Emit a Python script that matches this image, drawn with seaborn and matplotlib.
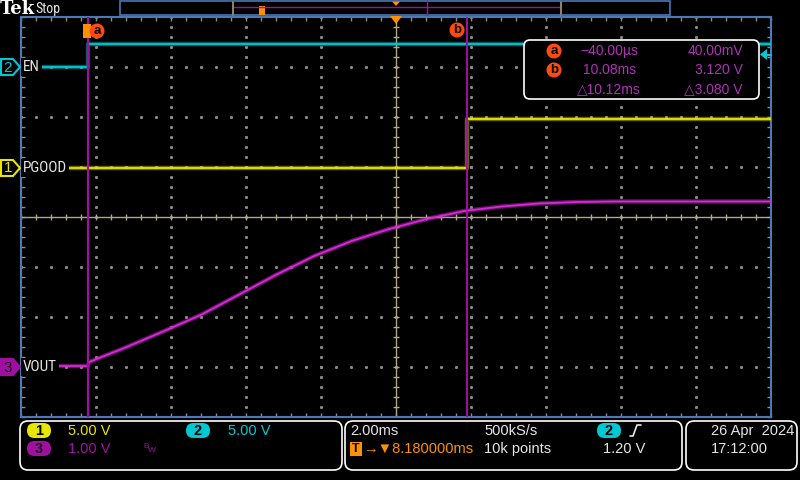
import numpy as np
import pandas as pd
import matplotlib.pyplot as plt
import seaborn as sns
from matplotlib import font_manager
from matplotlib.patches import FancyBboxPatch, Polygon, Rectangle, Circle

# scope settings
time_per_div = 2.0      # ms/div
center_time = 8.18      # ms
trig_level = 1.20       # V on ch2

# channel setup: scale V/div, ground position in div from centre
pgood_scale, pgood_pos = 5.0, 0.98
en_scale, en_pos = 5.0, 3.0
vout_scale, vout_pos = 1.0, -3.0

# waveforms (ms, V)
pgood_t = [-1.82, 10.08, 10.08, 18.18]
pgood_v = [0.0, 0.0, 4.9, 4.9]
en_t = [-1.82, -0.04, -0.04, 18.18]
en_v = [0.05, 0.05, 2.3, 2.3]
vout_t = [-1.82, -0.04, 0.0, 1.0, 2.0, 3.0, 4.0, 5.0, 6.0, 7.0, 8.0, 9.0,
          10.0, 11.0, 12.0, 13.0, 14.0, 18.18]
vout_v = [0.02, 0.02, 0.10, 0.40, 0.72, 1.05, 1.45, 1.85, 2.22, 2.52, 2.76,
          2.96, 3.12, 3.21, 3.27, 3.30, 3.31, 3.31]

cursor_t = [-0.04, 10.08]

YEL = "#e6e600"
CYA = "#00c8d2"
MAG = "#d828d8"
CUR = "#a010a0"
TXTMAG = "#b030b8"
ORG = "#ff9000"
RED = "#ff4a10"
BLUE = "#4a78b8"
WHITE = "#e6e6e6"

sns.set_theme(style="dark", rc={"axes.facecolor": "black", "figure.facecolor": "black"})
plt.rcParams['font.family'] = ['Liberation Sans', 'DejaVu Sans']

names = {f.name for f in font_manager.fontManager.ttflist}
narrow = 'Liberation Sans'
for cand in ['Liberation Sans Narrow', 'DejaVu Sans Condensed', 'Roboto Condensed']:
    if cand in names:
        narrow = cand
        break

fig = plt.figure(figsize=(8, 4.8), dpi=100)
ax = fig.add_axes([21/800, 63/480, 750/800, 400/480])
x0 = center_time - 5*time_per_div
x1 = center_time + 5*time_per_div
ax.set_xlim(x0, x1)
ax.set_ylim(-4, 4)

# graticule: dotted lines every division, solid centre cross with ticks
dot = "#8c8c8c"
for k in range(1, 10):
    if k == 5:
        continue
    gx = x0 + k*time_per_div
    ys = np.arange(-4, 4.01, 0.2)
    ax.plot([gx]*len(ys), ys, ls="none", marker="s", ms=1.1, color=dot, zorder=1)
for k in range(-3, 4):
    if k == 0:
        continue
    xs = np.arange(x0, x1 + 0.01, 0.2*time_per_div)
    ax.plot(xs, [k]*len(xs), ls="none", marker="s", ms=1.1, color=dot, zorder=1)
tan = "#b0a888"
ax.axhline(0, color=tan, lw=1, zorder=1)
ax.axvline(center_time, color=tan, lw=1, zorder=1)
tx = np.arange(x0, x1 + 0.01, 0.2*time_per_div)
ax.vlines(tx, -0.06, 0.06, color=tan, lw=1, zorder=1)
ty = np.arange(-4, 4.01, 0.2)
ax.hlines(ty, center_time - 0.08, center_time + 0.08, color=tan, lw=1, zorder=1)

ax.set_xticks(np.arange(x0, x1 + 0.01, time_per_div))
ax.set_xticks(tx, minor=True)
ax.set_yticks(np.arange(-4, 5, 1))
ax.set_yticks(ty, minor=True)
ax.tick_params(which="both", direction="in", length=3, width=1, color=dot,
               top=True, right=True, bottom=True, left=True,
               labelleft=False, labelbottom=False)
ax.grid(False)
for s in ax.spines.values():
    s.set_color(BLUE)
    s.set_linewidth(1.5)

# traces
def to_div(v, scale, pos):
    return [x/scale + pos for x in v]

df = pd.DataFrame({
    "t": pgood_t + en_t + vout_t,
    "y": to_div(pgood_v, pgood_scale, pgood_pos) + to_div(en_v, en_scale, en_pos)
         + to_div(vout_v, vout_scale, vout_pos),
    "ch": ["PGOOD"]*len(pgood_t) + ["EN"]*len(en_t) + ["VOUT"]*len(vout_t),
})
pal = {"PGOOD": YEL, "EN": CYA, "VOUT": MAG}
sns.lineplot(data=df, x="t", y="y", hue="ch", palette=pal, estimator=None,
             sort=False, units="ch", lw=3.2, alpha=0.45, legend=False, ax=ax, zorder=3)
sns.lineplot(data=df, x="t", y="y", hue="ch", palette=pal, estimator=None,
             sort=False, units="ch", lw=1.3, legend=False, ax=ax, zorder=4)
ax.set_xlabel("")
ax.set_ylabel("")

# cursors on top of the traces
for ct, lw in zip(cursor_t, [1.6, 1.4]):
    ax.axvline(ct, color=CUR, lw=lw, zorder=6)

# overlay in screen pixels
ov = fig.add_axes([0, 0, 1, 1], zorder=5)
ov.set_xlim(0, 800)
ov.set_ylim(480, 0)
ov.axis("off")

# top bar
ov.text(0, 9, "Tek", color="white", fontsize=13, fontweight="bold",
        family="DejaVu Serif", va="center", ha="left")
ov.text(35, 8.5, "Stop", color=WHITE, fontsize=10, va="center", ha="left", family=narrow)
ov.add_patch(Rectangle((120, 0.5), 550, 14.5, fc="none", ec=BLUE, lw=1.2))
ov.plot([233, 561], [7, 7], color=CUR, lw=1)
ov.plot([233, 233], [1.5, 14.5], color="#8a8270", lw=1.5)
ov.plot([561, 561], [1.5, 14.5], color="#8a8270", lw=1.5)
ov.plot([427, 427], [1, 15], color=CUR, lw=1)
ov.add_patch(Rectangle((259, 6), 6, 9, fc=ORG, ec="none"))
ov.add_patch(Polygon([(392, 1.5), (400, 1.5), (396, 6)], fc=ORG, ec="none"))

# trigger position marker and cursor tags
ov.add_patch(Polygon([(390, 16), (402, 16), (396, 24)], fc=ORG, ec="none"))
ov.add_patch(Rectangle((83, 24), 8, 14, fc=ORG, ec="none"))
for cx, cy, lab in [(97, 31, "a"), (457, 30, "b")]:
    ov.add_patch(Circle((cx, cy), 7.5, fc=RED, ec="none"))
    ov.text(cx, cy, lab, color="black", fontsize=9.5, fontweight="bold",
            ha="center", va="center")

# channel markers and labels
for y, num, col, filled, lab in [(67, "2", CYA, False, "EN"),
                                 (168, "1", YEL, False, "PGOOD"),
                                 (367, "3", CUR, True, "VOUT")]:
    pts = [(1, y-8), (13, y-8), (20, y), (13, y+8), (1, y+8)]
    ov.add_patch(Polygon(pts, fc=col if filled else "black", ec=col, lw=1.5))
    ov.text(8, y + 0.5, num, color="#200020" if filled else col, fontsize=11,
            ha="center", va="center")
    ov.text(23, y, lab, color=WHITE, fontsize=11, ha="left", va="center", family=narrow,
            bbox=dict(fc="black", ec="none", pad=1.5))

# trigger level arrow on right
ov.add_patch(Polygon([(760, 54.5), (767, 49), (767, 60)], fc=CYA, ec="none"))
ov.plot([767, 771], [54.5, 54.5], color=CYA, lw=1.5)

# cursor readout box
ov.add_patch(FancyBboxPatch((524, 40), 235, 59, boxstyle="round,pad=0,rounding_size=6",
                            fc="black", ec="white", lw=1.2))
for cy, lab in [(51, "a"), (70, "b")]:
    ov.add_patch(Circle((554, cy), 7.5, fc=RED, ec="none"))
    ov.text(554, cy, lab, color="black", fontsize=9.5, fontweight="bold",
            ha="center", va="center")
rows = [(51, "\u221240.00\u00b5s", "40.00mV", 580),
        (70, "10.08ms", "3.120 V", 583),
        (89, "\u25b310.12ms", "\u25b33.080 V", 577)]
for cy, left, right, lx in rows:
    ov.text(lx, cy, left, color=TXTMAG, fontsize=10, ha="left", va="center")
    ov.text(743, cy, right, color=TXTMAG, fontsize=10, ha="right", va="center")

# bottom status panels
for bx, bw in [(20, 322), (345, 337), (686, 111)]:
    ov.add_patch(FancyBboxPatch((bx, 421), bw, 49, boxstyle="round,pad=0,rounding_size=8",
                                fc="none", ec="white", lw=1.2))

def pill(x, y, num, col, tcol="black"):
    ov.add_patch(FancyBboxPatch((x, y), 24, 15, boxstyle="round,pad=0,rounding_size=7.5",
                                fc=col, ec="none"))
    ov.text(x + 12, y + 8, num, color=tcol, fontsize=10.5, fontweight="bold",
            ha="center", va="center")

pill(27, 423, "1", YEL)
ov.text(68, 431, "5.00 V", color=YEL, fontsize=10.5, va="center")
pill(186, 423, "2", CYA)
ov.text(228, 431, "5.00 V", color=CYA, fontsize=10.5, va="center")
pill(27, 441, "3", CUR, "#200020")
ov.text(68, 449, "1.00 V", color=CUR, fontsize=10.5, va="center")
ov.text(143, 446, "B", color=CUR, fontsize=6, va="center")
ov.text(148, 451, "W", color=CUR, fontsize=6, va="center")

ov.text(350, 431, "2.00ms", color=WHITE, fontsize=10.5, va="center")
ov.add_patch(Rectangle((350, 442), 12, 14, fc=ORG, ec="none"))
ov.text(356, 449, "T", color="black", fontsize=9, fontweight="bold", ha="center", va="center")
ov.text(363, 449, "\u2192\u25bc8.180000ms", color=ORG, fontsize=10.5, va="center",
        family=['Liberation Sans', 'DejaVu Sans'])
ov.text(484, 431, "500kS/s", color=WHITE, fontsize=10.5, va="center")
ov.text(484, 449, "10k points", color=WHITE, fontsize=10.5, va="center")
pill(597, 423, "2", CYA)
ov.plot([630, 633, 637, 641], [436, 436, 425, 425], color=WHITE, lw=1.2)
ov.text(603, 449, "%.2f V" % trig_level, color=WHITE, fontsize=10.5, va="center")

ov.text(711, 431, "26 Apr  2024", color=WHITE, fontsize=10.5, va="center")
ov.text(711, 449, "17:12:00", color=WHITE, fontsize=10.5, va="center")

fig.savefig("out.png", dpi=100, facecolor="black")
